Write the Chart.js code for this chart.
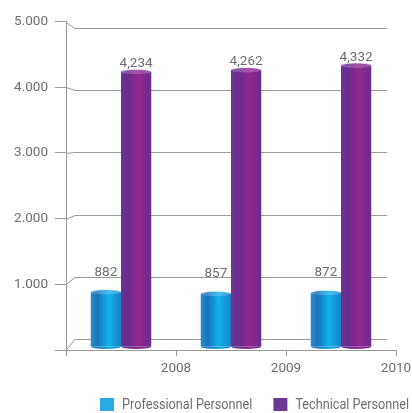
<!DOCTYPE html>
<html>
<head>
<meta charset="utf-8">
<style>
  html, body { margin: 0; padding: 0; background: #fff; }
  #wrap { position: relative; width: 412px; height: 413px; }
</style>
<script src="https://cdn.jsdelivr.net/npm/chart.js@4.4.1/dist/chart.umd.min.js"></script>
</head>
<body>
<div id="wrap"><canvas id="chart-staff"></canvas></div>
<script>
// 人員数（年別）
var YEARS = ['2008', '2009', '2010'];
var PROFESSIONAL = [882, 857, 872];
var TECHNICAL = [4234, 4262, 4332];
var Y_TICKS = [0, 1000, 2000, 3000, 4000, 5000];
var SERIES_NAMES = ['Professional Personnel', 'Technical Personnel'];

var FONT = "Roboto, 'Liberation Sans', sans-serif";
var FONT_SIZE = 13.5;
var TEXT_COLOR = '#6e6e6e';
var LINE_COLOR = '#9a9a9a';

// 奥の壁（擬似3D）
var DEPTH_X = 9;
var FLOOR_RISE = 11;
var BACK_SCALE = 0.947;

var BAR_STYLE = [
  { stops: ['#2a8fd0', '#1a72ba', '#10b2ee', '#1c80c5'], legend: '#29abe2' },
  { stops: ['#703292', '#672c8e', '#94278f', '#6a2c8e'], legend: '#6c3995' }
];

function withSep(v, sep) {
  return String(v).replace(/\B(?=(\d{3})+(?!\d))/g, sep);
}

function backY(scale, v) {
  var base = scale.getPixelForValue(0);
  return base - FLOOR_RISE - (base - scale.getPixelForValue(v)) * BACK_SCALE;
}

/** 奥の壁の目盛線と斜めのつなぎ線 */
var wallPlugin = {
  id: 'wall3d',
  beforeDatasetsDraw: function(chart) {
    var ctx = chart.ctx;
    var y = chart.scales.y;
    var area = chart.chartArea;
    ctx.save();
    ctx.strokeStyle = LINE_COLOR;
    ctx.lineWidth = 1;
    Y_TICKS.forEach(function(v) {
      var fy = Math.round(y.getPixelForValue(v)) + 0.5;
      var by = Math.round(backY(y, v)) + 0.5;
      ctx.beginPath();
      ctx.moveTo(area.left, fy);
      ctx.lineTo(area.left + DEPTH_X, by);
      ctx.lineTo(area.right - DEPTH_X, by);
      ctx.stroke();
    });
    ctx.restore();
  }
};

/** 円柱の陰影・上面と値ラベル */
var cylinderPlugin = {
  id: 'cylinders',
  afterDatasetsDraw: function(chart) {
    var ctx = chart.ctx;
    var y = chart.scales.y;

    chart.data.datasets.forEach(function(ds, di) {
      var style = BAR_STYLE[di];
      chart.getDatasetMeta(di).data.forEach(function(bar, i) {
        var left = bar.x - bar.width / 2;
        var right = bar.x + bar.width / 2;
        var rx = bar.width / 2;
        var ry = 2.5;
        var bottom = bar.base - 3;
        var g = ctx.createLinearGradient(left, 0, right, 0);
        g.addColorStop(0, style.stops[0]);
        g.addColorStop(0.22, style.stops[1]);
        g.addColorStop(0.6, style.stops[2]);
        g.addColorStop(1, style.stops[3]);

        ctx.save();
        ctx.fillStyle = g;
        ctx.fillRect(left, bar.y, bar.width, bottom - bar.y);
        ctx.beginPath();
        ctx.ellipse(bar.x, bottom, rx, ry, 0, 0, Math.PI);
        ctx.fill();

        // 上面
        ctx.beginPath();
        ctx.ellipse(bar.x, bar.y, rx, ry, 0, 0, Math.PI * 2);
        ctx.fill();
        ctx.fillStyle = 'rgba(255,255,255,0.2)';
        ctx.fill();
        ctx.strokeStyle = 'rgba(255,255,255,0.7)';
        ctx.lineWidth = 1;
        ctx.beginPath();
        ctx.ellipse(bar.x, bar.y, rx - 0.5, ry, 0, Math.PI, Math.PI * 2);
        ctx.stroke();

        // 値ラベル
        var v = ds.data[i];
        ctx.fillStyle = TEXT_COLOR;
        ctx.font = FONT_SIZE + 'px ' + FONT;
        ctx.textAlign = 'center';
        ctx.textBaseline = 'bottom';
        ctx.fillText(withSep(v, ','), bar.x, backY(y, v) - 5);
        ctx.restore();
      });
    });
  }
};

/** 下部の凡例（文字は縦長の書体に寄せて横方向を詰める） */
var legendPlugin = {
  id: 'bottomLegend',
  afterDraw: function(chart) {
    var ctx = chart.ctx;
    var squeeze = 0.845;
    var x = 100;
    var top = 398;
    ctx.save();
    ctx.font = '15px ' + FONT;
    ctx.textBaseline = 'middle';
    ctx.textAlign = 'left';
    chart.data.datasets.forEach(function(ds, di) {
      ctx.fillStyle = BAR_STYLE[di].legend;
      ctx.fillRect(x, top, 14, 13);
      ctx.save();
      ctx.translate(x + 22, top + 7);
      ctx.scale(squeeze, 1);
      ctx.fillStyle = TEXT_COLOR;
      ctx.fillText(ds.label, 0, 0);
      ctx.restore();
      x += 22 + ctx.measureText(ds.label).width * squeeze + 21;
    });
    ctx.restore();
  }
};

new Chart(document.getElementById('chart-staff'), {
  type: 'bar',
  data: {
    labels: YEARS,
    datasets: [
      { label: SERIES_NAMES[0], data: PROFESSIONAL, backgroundColor: 'transparent' },
      { label: SERIES_NAMES[1], data: TECHNICAL, backgroundColor: 'transparent' }
    ]
  },
  options: {
    responsive: true,
    maintainAspectRatio: false,
    animation: false,
    layout: { padding: { top: 21.5, right: 16, bottom: 0, left: 0 } },
    datasets: { bar: { categoryPercentage: 0.55, barPercentage: 1.0 } },
    plugins: {
      legend: { display: false },
      tooltip: { enabled: false }
    },
    scales: {
      x: {
        offset: true,
        afterFit: function(scale) { scale.height = 63; },
        grid: { drawOnChartArea: false, drawTicks: true, tickLength: 6, color: LINE_COLOR, offset: true },
        border: { color: LINE_COLOR },
        ticks: { color: TEXT_COLOR, font: { family: FONT, size: FONT_SIZE }, padding: 5, labelOffset: 55, maxRotation: 0 }
      },
      y: {
        min: 0,
        max: 5000,
        afterFit: function(scale) { scale.width = 66; },
        afterBuildTicks: function(scale) {
          scale.ticks = Y_TICKS.map(function(v) { return { value: v }; });
        },
        grid: { drawOnChartArea: false, drawTicks: true, tickLength: 11, color: LINE_COLOR },
        border: { color: LINE_COLOR },
        ticks: {
          color: TEXT_COLOR,
          font: { family: FONT, size: FONT_SIZE },
          padding: 7,
          callback: function(v) { return v === 0 ? '' : withSep(v, '.'); }
        }
      }
    }
  },
  plugins: [wallPlugin, cylinderPlugin, legendPlugin]
});
</script>
</body>
</html>
